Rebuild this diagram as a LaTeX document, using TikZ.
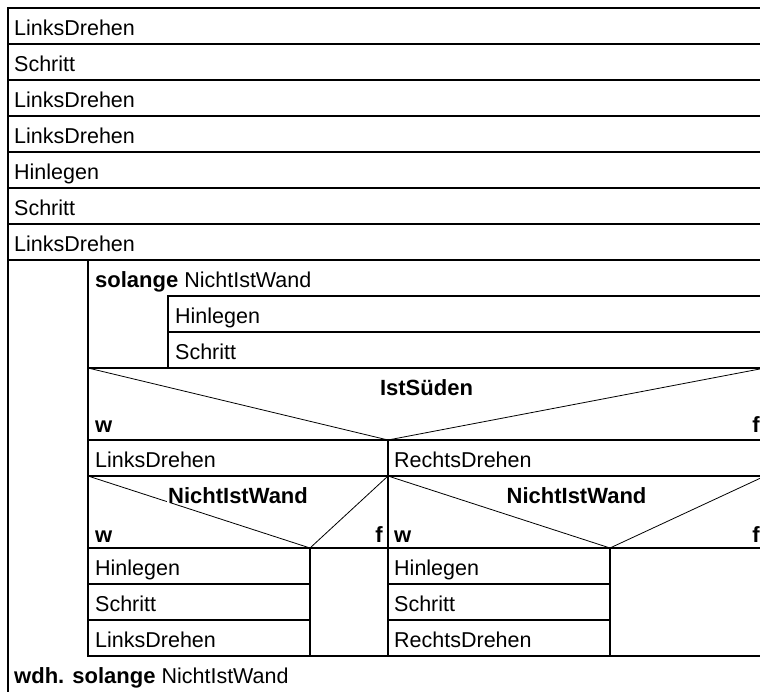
\documentclass[tikz,border=0pt]{standalone}
\usepackage{fontspec}
\setmainfont{Liberation Sans}
\usetikzlibrary{positioning}
\tikzset{
  every node/.style={font=\fontsize{21.5}{24}\selectfont, inner sep=0pt}, % text size of all labels
  cell/.style={draw, line width=1.2pt}, % the boxes
  diag/.style={draw, line width=0.8pt}, % the slanted lines of a decision
  txt/.style={anchor=base west}, % statements, left aligned
  kw/.style={font=\fontsize{22}{24}\selectfont\bfseries}, % keywords
}

\begin{document}
\begin{tikzpicture}[x=1pt, y=-1pt]
  \useasboundingbox (0,0) rectangle (760,691);
  \clip (0,0) rectangle (760,691);

  % Statements
  \foreach \t [count=\i from 0] in {LinksDrehen, Schritt, LinksDrehen, LinksDrehen, Hinlegen, Schritt, LinksDrehen} {
    \draw[cell] (8,8+36*\i) rectangle (765,44+36*\i);
    \node[txt] (stmt\i) at (14,35+36*\i) {\t};
  }

  % Outer loop (wdh. solange)
  \draw[cell] (8,260) rectangle (765,720);
  \draw[cell] (88,260) -- (88,656) -- (765,656);
  \node[txt] (dowhile) at (14,683) {{\bfseries\fontsize{22}{24}\selectfont wdh. solange} NichtIstWand};

  % Inner loop (solange)
  \draw[cell] (88,260) rectangle (765,368);
  \node[txt] (while) at (95,287) {{\bfseries\fontsize{22}{24}\selectfont solange} NichtIstWand};
  \draw[cell] (168,296) rectangle (765,332);
  \node[txt] (wA) at (175,323) {Hinlegen};
  \draw[cell] (168,332) rectangle (765,368);
  \node[txt] (wB) at (175,359) {Schritt};

  % Decision IstSueden
  \draw[cell] (88,368) rectangle (765,440);
  \path[diag] (88,368) -- (388,440) -- (765,368);
  \node[kw, anchor=base] (ifS) at (426.5,395) {IstSüden};
  \node[kw, anchor=base west] (ifSw) at (95,432) {w};
  \node[kw, anchor=base east] (ifSf) at (760,432) {f};
  \draw[cell] (88,440) rectangle (388,476);
  \node[txt] (ifSa) at (95,467) {LinksDrehen};
  \draw[cell] (388,440) rectangle (765,476);
  \node[txt] (ifSb) at (394,467) {RechtsDrehen};

  % Decision NichtIstWand (true branch)
  \draw[cell] (88,476) rectangle (388,548);
  \path[diag] (88,476) -- (310,548) -- (388,476);
  \node[kw, anchor=base, fill=white, inner xsep=1pt] (ifL) at (238,503) {NichtIstWand};
  \node[kw, anchor=base west] (ifLw) at (95,542) {w};
  \node[kw, anchor=base east] (ifLf) at (383,542) {f};
  \foreach \t [count=\i from 0] in {Hinlegen, Schritt, LinksDrehen} {
    \draw[cell] (88,548+36*\i) rectangle (310,584+36*\i);
    \node[txt] (ifL\i) at (95,575+36*\i) {\t};
  }
  \draw[cell] (310,548) rectangle (388,656);

  % Decision NichtIstWand (false branch)
  \draw[cell] (388,476) rectangle (765,548);
  \path[diag] (388,476) -- (610,548) -- (765,476);
  \node[kw, anchor=base, fill=white, inner xsep=1pt] (ifR) at (576.5,503) {NichtIstWand};
  \node[kw, anchor=base west] (ifRw) at (394,542) {w};
  \node[kw, anchor=base east] (ifRf) at (760,542) {f};
  \foreach \t [count=\i from 0] in {Hinlegen, Schritt, RechtsDrehen} {
    \draw[cell] (388,548+36*\i) rectangle (610,584+36*\i);
    \node[txt] (ifR\i) at (394,575+36*\i) {\t};
  }
  \draw[cell] (610,548) rectangle (765,656);
\end{tikzpicture}
\end{document}
